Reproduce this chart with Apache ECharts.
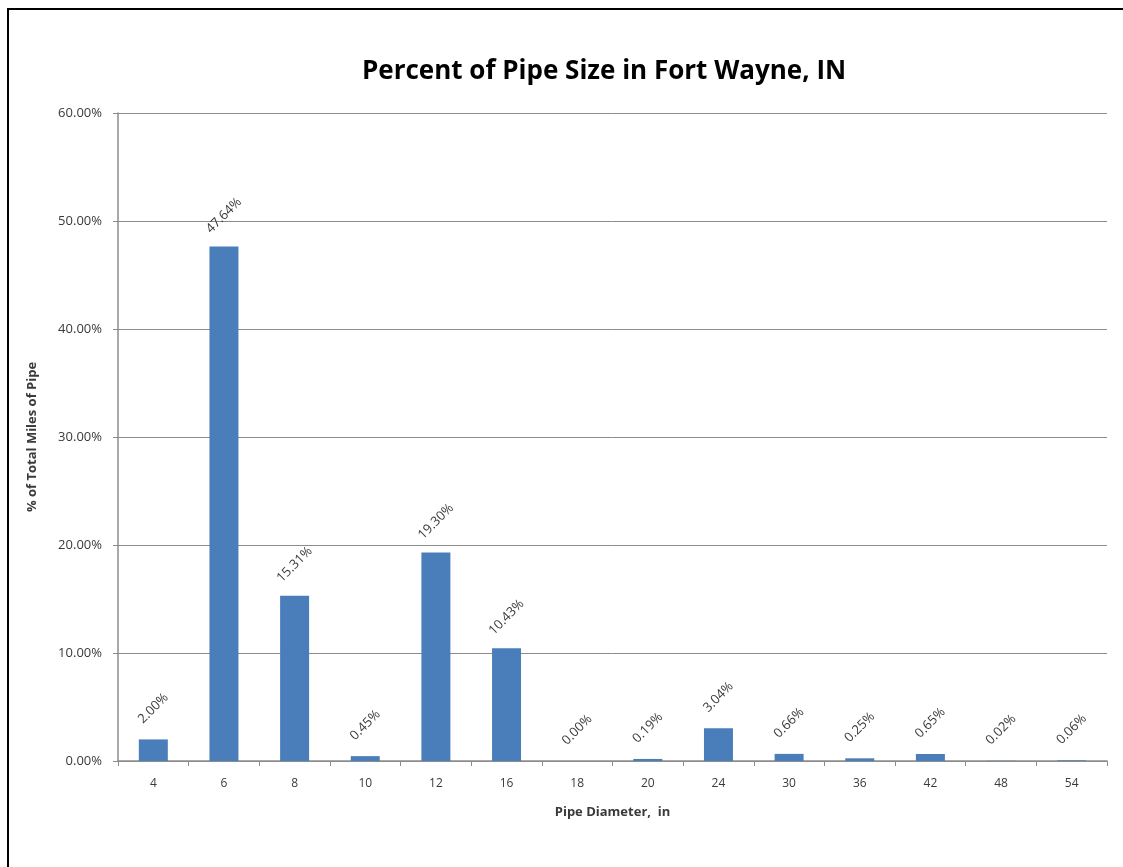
<!DOCTYPE html>
<html>
<head>
<meta charset="utf-8">
<script src="https://cdn.jsdelivr.net/npm/echarts@6/dist/echarts.min.js"></script>
<style>
  html, body { margin: 0; padding: 0; background: #fff; overflow: hidden; }
  #frame { position: absolute; left: 7px; top: 8px; width: 1200px; height: 1000px; border: 2px solid #000; box-sizing: border-box; }
  #chart { position: absolute; left: 0; top: 0; width: 1123px; height: 867px; }
</style>
</head>
<body>
<div id="frame"></div>
<div id="chart"></div>
<script>
// Pipe diameters (inches) and share of total pipe miles (%)
const diameters = ['4', '6', '8', '10', '12', '16', '18', '20', '24', '30', '36', '42', '48', '54'];
const percentOfMiles = [2.00, 47.64, 15.31, 0.45, 19.30, 10.43, 0.00, 0.19, 3.04, 0.66, 0.25, 0.65, 0.02, 0.06];

const chart = echarts.init(document.getElementById('chart'));
const axisGrey = '#8c8c8c';
const textGrey = '#3a3a3a';
const fontFamily = '"Open Sans", Lato, sans-serif';

chart.setOption({
  animation: false,
  backgroundColor: 'transparent',
  title: {
    text: 'Percent of Pipe Size in Fort Wayne, IN',
    left: 357,
    top: 54,
    textStyle: { fontFamily, fontSize: 26, fontWeight: 'bold', color: '#000' }
  },
  grid: { left: 118, right: 16, top: 113, bottom: 106 },
  xAxis: {
    type: 'category',
    data: diameters,
    name: 'Pipe Diameter,  in',
    nameLocation: 'middle',
    nameGap: 45,
    nameTextStyle: { fontFamily, fontSize: 13, fontWeight: 'bold', color: textGrey },
    axisLine: { lineStyle: { color: axisGrey, width: 1.5 } },
    axisTick: { show: true, length: 5, alignWithLabel: false, lineStyle: { color: axisGrey } },
    axisLabel: { fontFamily, fontSize: 12, color: textGrey, margin: 17 }
  },
  yAxis: {
    type: 'value',
    min: 0,
    max: 60,
    interval: 10,
    name: '% of Total Miles of Pipe',
    nameLocation: 'middle',
    nameGap: 79,
    nameRotate: 90,
    nameTextStyle: { fontFamily, fontSize: 13, fontWeight: 'bold', color: textGrey },
    axisLine: { show: true, lineStyle: { color: axisGrey, width: 1.5 } },
    axisTick: { show: true, length: 5, lineStyle: { color: axisGrey } },
    axisLabel: { fontFamily, fontSize: 13, color: textGrey, margin: 16, formatter: v => v.toFixed(2) + '%' },
    splitLine: { lineStyle: { color: axisGrey, width: 1 } }
  },
  series: [{
    type: 'bar',
    data: percentOfMiles,
    barWidth: 29,
    itemStyle: { color: '#4a7ebb' },
    label: {
      show: true,
      position: 'top',
      rotate: 45,
      align: 'center',
      verticalAlign: 'middle',
      distance: 31,
      fontFamily,
      fontSize: 13,
      color: textGrey,
      formatter: p => p.value.toFixed(2) + '%'
    }
  }]
});
</script>
</body>
</html>
